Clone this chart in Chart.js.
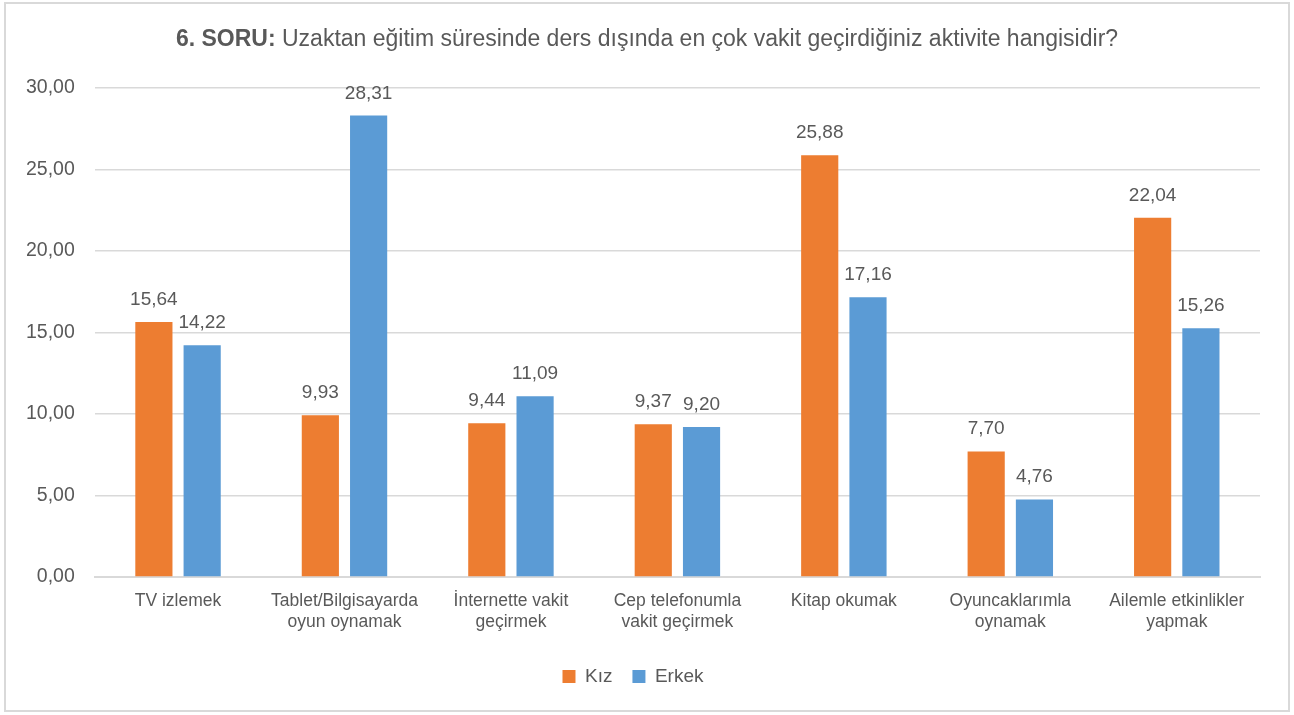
<!DOCTYPE html>
<html>
<head>
<meta charset="utf-8">
<script src="https://cdn.jsdelivr.net/npm/chart.js@4.4.1/dist/chart.umd.min.js"></script>
<style>
html,body{margin:0;padding:0;background:#fff;}
#wrap{position:absolute;left:4px;top:2px;width:1286px;height:710px;border:2px solid #d9d9d9;box-sizing:border-box;}
canvas{display:block;}
</style>
</head>
<body>
<div id="wrap"><canvas id="c"></canvas></div>
<script>
const categories = [
  "TV izlemek",
  ["Tablet/Bilgisayarda", "oyun oynamak"],
  ["İnternette vakit", "geçirmek"],
  ["Cep telefonumla", "vakit geçirmek"],
  "Kitap okumak",
  ["Oyuncaklarımla", "oynamak"],
  ["Ailemle etkinlikler", "yapmak"]
];
const seriesNames = ["Kız", "Erkek"];
const kizValues = [15.64, 9.93, 9.44, 9.37, 25.88, 7.70, 22.04];
const erkekValues = [14.22, 28.31, 11.09, 9.20, 17.16, 4.76, 15.26];
const titleBold = "6. SORU:";
const titleRest = " Uzaktan eğitim süresinde ders dışında en çok vakit geçirdiğiniz aktivite hangisidir?";

const FONT = "'Liberation Sans', Arial, sans-serif";
const TXT = "#595959";

const fmt = v => v.toFixed(2).replace('.', ',');

const valueLabels = {
  id: 'valueLabels',
  afterDatasetsDraw(chart) {
    const ctx = chart.ctx;
    ctx.save();
    ctx.font = "19px " + FONT;
    ctx.fillStyle = TXT;
    ctx.textAlign = 'center';
    ctx.textBaseline = 'alphabetic';
    chart.data.datasets.forEach((ds, i) => {
      chart.getDatasetMeta(i).data.forEach((bar, j) => {
        ctx.fillText(fmt(ds.data[j]), bar.x, bar.y - 17);
      });
    });
    ctx.restore();
  }
};

const customTitle = {
  id: 'customTitle',
  afterDraw(chart) {
    const ctx = chart.ctx;
    ctx.save();
    const fb = "bold 23px " + FONT;
    const fr = "23px " + FONT;
    ctx.font = fb; const w1 = ctx.measureText(titleBold).width;
    ctx.font = fr; const w2 = ctx.measureText(titleRest).width;
    const x0 = 641 - (w1 + w2) / 2;
    const y = 42;
    ctx.textBaseline = 'alphabetic';
    ctx.fillStyle = TXT;
    ctx.font = fb; ctx.fillText(titleBold, x0, y);
    ctx.font = fr; ctx.fillText(titleRest, x0 + w1, y);
    ctx.restore();
  }
};

new Chart(document.getElementById('c'), {
  type: 'bar',
  data: {
    labels: categories,
    datasets: [
      { label: seriesNames[0], data: kizValues, backgroundColor: '#ed7d31' },
      { label: seriesNames[1], data: erkekValues, backgroundColor: '#5b9bd5' }
    ]
  },
  options: {
    responsive: true,
    maintainAspectRatio: false,
    animation: false,
    layout: { padding: { top: 84, left: 0, right: 28, bottom: 14 } },
    datasets: { bar: { categoryPercentage: 0.58, barPercentage: 0.77 } },
    scales: {
      x: {
        grid: { display: false, drawTicks: false },
        border: { display: true, color: '#d9d9d9', width: 2 },
        ticks: { color: TXT, font: { family: FONT, size: 17.5, lineHeight: 1.2 }, padding: 14, maxRotation: 0, autoSkip: false }
      },
      y: {
        min: 0, max: 30,
        ticks: { stepSize: 5, color: TXT, font: { family: FONT, size: 19.5 }, padding: 20, callback: v => fmt(v) },
        grid: { color: '#d9d9d9', lineWidth: 1.5, drawTicks: false },
        border: { display: false }
      }
    },
    plugins: {
      title: { display: false },
      tooltip: { enabled: false },
      legend: {
        position: 'bottom',
        labels: { color: TXT, font: { family: FONT, size: 19 }, boxWidth: 13, boxHeight: 13, padding: 20 }
      }
    }
  },
  plugins: [valueLabels, customTitle]
});
</script>
</body>
</html>
